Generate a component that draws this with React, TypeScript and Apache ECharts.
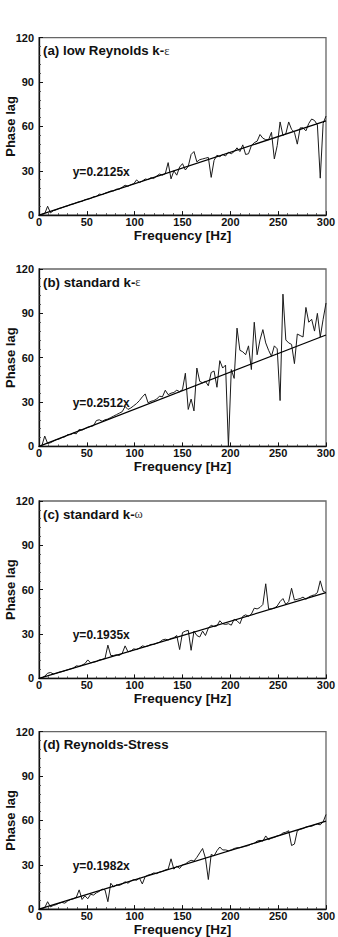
import React, { useEffect, useRef } from "react";
import * as echarts from "echarts";

const freq: number[] = [
  3, 6, 9, 12, 15, 18, 21, 24, 27, 30, 33, 36, 39, 42, 45, 48, 51, 54, 57, 60,
  63, 66, 69, 72, 75, 78, 81, 84, 87, 90, 93, 96, 99, 102, 105, 108, 111, 114, 117, 120,
  123, 126, 129, 132, 135, 138, 141, 144, 147, 150, 153, 156, 159, 162, 165, 168, 171, 174, 177, 180,
  183, 186, 189, 192, 195, 198, 201, 204, 207, 210, 213, 216, 219, 222, 225, 228, 231, 234, 237, 240,
  243, 246, 249, 252, 255, 258, 261, 264, 267, 270, 273, 276, 279, 282, 285, 288, 291, 294, 297, 300,
];

const lagLowRe: number[] = [
  0.5, 1.0, 6.0, 1.5, 3.0, 3.6, 4.5, 5.0, 5.8, 6.3, 7.2, 7.6, 8.4, 9.0, 9.3, 10.4, 10.8, 11.3, 12.4, 12.6,
  14.2, 13.8, 14.8, 15.5, 16.3, 16.4, 17.5, 17.6, 18.9, 20.2, 19.5, 20.6, 21.2, 23.8, 22.0, 23.0, 24.4, 24.0, 25.3, 24.8,
  26.4, 27.8, 27.0, 28.0, 35.5, 24.5, 30.0, 27.0, 32.5, 34.8, 30.5, 33.0, 41.0, 43.0, 36.0, 37.5, 38.0, 38.5, 39.0, 25.5,
  37.0, 40.5, 39.5, 41.0, 40.0, 42.5, 41.5, 43.0, 45.5, 43.0, 47.5, 41.0, 41.5, 47.0, 49.0, 50.0, 54.5, 52.0, 51.0, 51.0,
  56.0, 38.0, 47.0, 63.0, 54.0, 55.0, 63.0, 58.0, 56.0, 48.0, 59.0, 59.0, 57.0, 62.0, 65.0, 64.0, 61.0, 25.0, 62.0, 67.0,
];

const lagStdKe: number[] = [
  0.5, 7.0, 2.0, 2.5, 3.5, 4.5, 5.0, 6.0, 6.5, 8.0, 8.0, 9.0, 8.5, 11.5, 11.0, 12.0, 13.0, 13.5, 14.0, 17.5,
  18.0, 17.0, 18.0, 18.5, 19.5, 20.5, 21.5, 22.5, 23.5, 27.0, 25.0, 26.0, 27.5, 29.0, 31.0, 33.5, 35.5, 29.5, 30.5, 31.0,
  32.0, 34.0, 33.5, 38.0, 35.0, 36.0, 36.5, 38.0, 37.0, 38.5, 49.5, 25.0, 32.0, 24.0, 53.0, 44.0, 43.0, 44.0, 41.0, 50.0,
  51.0, 40.0, 58.0, 53.0, 55.0, 0.0, 52.0, 46.0, 80.0, 65.0, 64.0, 62.0, 68.0, 52.0, 84.0, 62.0, 72.0, 79.0, 70.0, 65.0,
  61.0, 68.0, 66.0, 31.0, 103.0, 72.0, 70.0, 69.0, 56.0, 76.0, 75.0, 74.0, 94.0, 84.0, 86.0, 78.0, 90.0, 74.0, 86.0, 97.0,
];

const lagStdKw: number[] = [
  0.2, 1.5, 3.5, 4.0, 3.0, 3.5, 4.2, 4.6, 5.2, 5.8, 6.4, 7.0, 8.5, 8.2, 9.0, 10.0, 12.5, 10.5, 11.0, 11.4,
  12.5, 12.8, 13.5, 22.5, 15.5, 15.5, 16.0, 15.5, 17.0, 22.0, 18.0, 18.5, 20.0, 19.5, 20.5, 22.0, 21.5, 22.0, 23.0, 23.0,
  23.8, 24.5, 26.0, 26.5, 26.0, 27.0, 27.5, 29.0, 19.5, 31.0, 32.0, 32.5, 19.0, 32.0, 29.0, 28.0, 32.0, 29.0, 34.0, 36.0,
  35.0, 35.5, 39.0, 37.0, 36.5, 37.0, 36.0, 40.0, 39.0, 37.0, 42.0, 43.0, 42.0, 43.5, 47.5, 47.0, 48.0, 50.0, 64.0, 47.0,
  47.0, 47.5, 49.0, 52.0, 54.0, 50.0, 52.0, 61.0, 53.0, 53.5, 54.0, 55.0, 53.5, 55.0, 56.0, 56.5, 58.0, 66.0, 59.0, 58.0,
];

const lagRSM: number[] = [
  0.3, 1.0, 5.0, 1.5, 2.5, 3.0, 4.0, 4.5, 4.0, 5.5, 6.5, 7.0, 8.0, 13.0, 6.5, 9.0, 7.0, 10.0, 9.5, 11.0,
  12.0, 13.5, 13.0, 5.0, 17.5, 15.0, 16.5, 16.0, 17.0, 18.5, 17.5, 19.0, 20.0, 19.5, 21.0, 17.0, 22.0, 23.0, 23.5, 24.5,
  24.0, 25.0, 25.5, 26.5, 27.0, 34.0, 27.0, 29.0, 27.5, 30.0, 30.5, 32.0, 33.0, 32.5, 35.0, 38.0, 41.0, 34.5, 20.0, 37.0,
  36.0, 39.5, 42.0, 40.0, 40.0, 39.5, 40.0, 41.0, 41.5, 41.5, 42.0, 42.5, 43.0, 44.0, 44.5, 46.0, 46.5, 46.0, 49.5, 47.0,
  48.0, 48.5, 49.5, 50.0, 51.5, 52.0, 53.0, 43.0, 44.0, 53.0, 54.0, 54.5, 55.5, 56.0, 56.0, 57.0, 57.5, 57.0, 59.0, 64.0,
];

const panelSeries: number[][] = [lagLowRe, lagStdKe, lagStdKw, lagRSM];
const slopes: number[] = [0.2125, 0.2512, 0.1935, 0.1982];
const titleMain: string[] = ["(a) low Reynolds k-", "(b) standard k-", "(c) standard k-", "(d) Reynolds-Stress"];
const titleGreek: string[] = ["ε", "ε", "ω", ""];
const xTicks = { min: 0, max: 300, interval: 50 };
const yTicks = { min: 0, max: 120, interval: 30 };

const FONT = "'Liberation Sans', Arial, sans-serif";
const gridTops = [37.7, 269, 501, 731.7];
const gridLeft = 39;
const gridWidth = 287;
const gridHeight = 177.4;

export default function App() {
  const ref = useRef<HTMLDivElement>(null);
  useEffect(() => {
    if (!ref.current) return;
    const chart = echarts.init(ref.current, undefined, { renderer: "svg" });
    const grids: any[] = [];
    const xAxes: any[] = [];
    const yAxes: any[] = [];
    const series: any[] = [];
    const titles: any[] = [];
    panelSeries.forEach((vals, i) => {
      grids.push({
        left: gridLeft,
        top: gridTops[i],
        width: gridWidth,
        height: gridHeight,
        show: true,
        borderColor: "#666",
        borderWidth: 1.3,
        backgroundColor: "transparent",
        containLabel: false,
        outerBoundsMode: "none",
      });
      xAxes.push({
        type: "value",
        gridIndex: i,
        min: xTicks.min,
        max: xTicks.max,
        interval: xTicks.interval,
        name: "Frequency [Hz]",
        nameLocation: "middle",
        nameGap: 13,
        nameMoveOverlap: false,
        nameTextStyle: { fontFamily: FONT, fontWeight: "bold", fontSize: 13.5, color: "#111" },
        axisLine: { show: true, onZero: false, lineStyle: { color: "#111", width: 1.3 } },
        axisTick: { show: true, inside: true, length: 4, lineStyle: { color: "#111", width: 1 } },
        minorTick: { show: true, splitNumber: 5, length: 2, lineStyle: { color: "#333", width: 0.8 } },
        axisLabel: { fontFamily: FONT, fontWeight: "bold", fontSize: 11, color: "#111", margin: 1 },
        splitLine: { show: false },
      });
      yAxes.push({
        type: "value",
        gridIndex: i,
        min: yTicks.min,
        max: yTicks.max,
        interval: yTicks.interval,
        name: "Phase lag",
        nameLocation: "middle",
        nameGap: 22,
        nameMoveOverlap: false,
        nameTextStyle: { fontFamily: FONT, fontWeight: "bold", fontSize: 13, color: "#111" },
        axisLine: { show: true, onZero: false, lineStyle: { color: "#111", width: 1.3 } },
        axisTick: { show: true, inside: true, length: 4, lineStyle: { color: "#111", width: 1 } },
        minorTick: { show: true, splitNumber: 5, length: 2, lineStyle: { color: "#333", width: 0.8 } },
        axisLabel: { fontFamily: FONT, fontWeight: "bold", fontSize: 11, color: "#111", margin: 5 },
        splitLine: { show: false },
      });
      series.push({
        type: "line",
        xAxisIndex: i,
        yAxisIndex: i,
        data: freq.map((f, j) => [f, vals[j]]),
        showSymbol: false,
        symbol: "none",
        lineStyle: { color: "#1a1a1a", width: 1 },
        silent: true,
        z: 2,
      });
      series.push({
        type: "line",
        xAxisIndex: i,
        yAxisIndex: i,
        data: [
          [xTicks.min, slopes[i] * xTicks.min],
          [xTicks.max, slopes[i] * xTicks.max],
        ],
        showSymbol: false,
        symbol: "none",
        lineStyle: { color: "#000", width: 1.2 },
        silent: true,
        z: 3,
      });
      titles.push({
        left: 43,
        top: gridTops[i] + 6.5,
        padding: 0,
        text: titleGreek[i] ? `{b|${titleMain[i]}}{g|${titleGreek[i]}}` : `{b|${titleMain[i]}}`,
        textStyle: {
          rich: {
            b: { fontFamily: FONT, fontWeight: "bold", fontSize: 13.3, color: "#111" },
            g: { fontFamily: "'Liberation Serif', 'DejaVu Serif', serif", fontWeight: "normal", fontSize: 12.5, color: "#333" },
          },
        },
      });
      titles.push({
        left: 72.7,
        top: gridTops[i] + 128,
        padding: 0,
        text: `y=${slopes[i].toFixed(4)}x`,
        textStyle: { fontFamily: FONT, fontWeight: "bold", fontSize: 12, color: "#111" },
      });
    });
    chart.setOption({
      animation: false,
      backgroundColor: "#fff",
      title: titles,
      grid: grids,
      xAxis: xAxes,
      yAxis: yAxes,
      series,
    });
    return () => chart.dispose();
  }, []);
  return (
    <div
      ref={ref}
      style={{ position: "fixed", left: 0, top: 0, width: 338, height: 937, background: "#fff" }}
    />
  );
}
